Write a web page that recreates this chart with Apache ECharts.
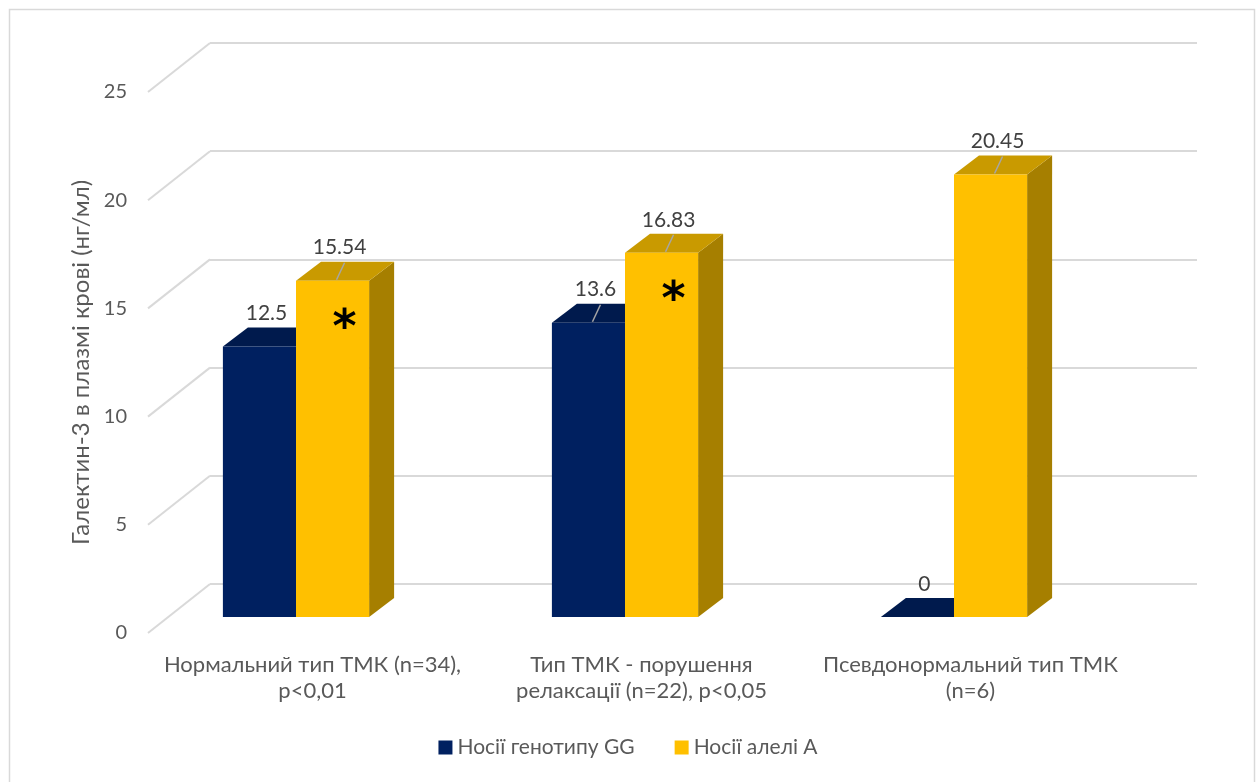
<!DOCTYPE html>
<html>
<head>
<meta charset="utf-8">
<script src="https://cdn.jsdelivr.net/npm/echarts@6/dist/echarts.min.js"></script>
<style>
  html, body { margin: 0; padding: 0; background: #ffffff; }
  #chart { width: 1256px; height: 782px; }
</style>
</head>
<body>
<div id="chart"></div>
<script>
// Галектин-3 у плазмі крові за типами трансмітрального кровотоку
const categories = [
  'Нормальний тип ТМК (n=34),\np<0,01',
  'Тип ТМК - порушення\nрелаксації (n=22), p<0,05',
  'Псевдонормальний тип ТМК\n(n=6)'
];
const seriesNames = ['Носії генотипу GG', 'Носії алелі А'];
const carriersGG = [12.5, 13.6, 0];
const carriersA = [15.54, 16.83, 20.45];
const significance = ['*', '*', ''];
const yTicks = [0, 5, 10, 15, 20, 25];

const FONT = 'Lato, "Open Sans", sans-serif';
const TEXT = '#595959';
const GRID_LINE = '#D9D9D9';

// Oblique depth of the floor / back wall
const WALL_DX = 62, WALL_DY = -49;
// Depth of a bar box
const BAR_DX = 25, BAR_DY = -19;
// Front plane of the bars relative to the front edge of the floor
const BAR_SHIFT_X = -16.5, BAR_SHIFT_Y = -16;

const palette = [
  { front: '#002060', top: '#001A4D', side: '#00163F' },
  { front: '#FFC000', top: '#C99A00', side: '#A67F00' }
];

function barRenderer(k) {
  const colors = palette[k];
  return function (params, api) {
    const cat = api.value(0);
    const v = api.value(1);
    const base = api.coord([cat, 0]);
    const top = api.coord([cat, v]);
    const band = api.size([1, 0])[0];
    const w = band * 0.2222;
    const x0 = base[0] + BAR_SHIFT_X - w + k * w;
    const x1 = x0 + w;
    const yb = base[1] + BAR_SHIFT_Y;
    const yt = top[1] + BAR_SHIFT_Y;
    const xc = (x0 + x1) / 2;
    const children = [
      { type: 'polygon', shape: { points: [[x1, yt], [x1 + BAR_DX, yt + BAR_DY], [x1 + BAR_DX, yb + BAR_DY], [x1, yb]] },
        style: { fill: colors.side } },
      { type: 'polygon', shape: { points: [[x0, yt], [x1, yt], [x1 + BAR_DX, yt + BAR_DY], [x0 + BAR_DX, yt + BAR_DY]] },
        style: { fill: colors.top } }
    ];
    if (yb - yt > 0.5) {
      children.push({ type: 'rect', shape: { x: x0, y: yt, width: w, height: yb - yt }, style: { fill: colors.front } });
    }
    // leader lines on the taller boxes, where the label sits clear of the top face
    if (v > 13) {
      children.push({ type: 'line', shape: { x1: xc + 4, y1: yt - 1, x2: xc + 12, y2: yt - 18 },
        style: { stroke: '#A6A6A6', lineWidth: 1.5 } });
    }
    children.push({ type: 'text', x: xc + 7, y: yt - 33,
      style: { text: String(v), fill: '#404040', font: '21px ' + FONT, align: 'center', verticalAlign: 'middle' } });
    const mark = k === 1 ? significance[params.dataIndex] : '';
    if (mark) {
      children.push({ type: 'text', x: xc + 12, y: yt + 49,
        style: { text: mark, fill: '#000000', font: 'bold 46px "DejaVu Sans", sans-serif', align: 'center', verticalAlign: 'middle' } });
    }
    return { type: 'group', children: children };
  };
}

function diagonalRenderer(params, api) {
  const y = api.coord([0, api.value(1)])[1];
  const x = params.coordSys.x;
  return { type: 'line', shape: { x1: x, y1: y, x2: x + WALL_DX, y2: y + WALL_DY },
    style: { stroke: GRID_LINE, lineWidth: 2 } };
}

const chart = echarts.init(document.getElementById('chart'), null, { renderer: 'canvas' });

chart.setOption({
  backgroundColor: '#ffffff',
  animation: false,
  textStyle: { fontFamily: FONT },
  graphic: [{
    type: 'rect', left: 7, top: 7, shape: { width: 1245, height: 790 },
    style: { fill: 'none', stroke: '#D9D9D9', lineWidth: 1.5 }, silent: true, z: -10
  }],
  legend: {
    data: seriesNames,
    bottom: 19,
    left: 'center',
    icon: 'rect',
    itemWidth: 14,
    itemHeight: 14,
    itemGap: 40,
    textStyle: { color: TEXT, fontSize: 21, fontFamily: FONT }
  },
  grid: [
    // front edge of the floor: value axis labels and category labels
    { left: 148, top: 92, width: 987, height: 541 },
    // back wall
    { left: 210, top: 43, width: 987, height: 541 }
  ],
  xAxis: [
    { type: 'category', gridIndex: 0, data: categories,
      axisLine: { show: false }, axisTick: { show: false },
      axisLabel: { color: TEXT, fontSize: 22, lineHeight: 26, margin: 19, interval: 0, fontFamily: FONT } },
    { type: 'category', gridIndex: 1, data: categories, show: false }
  ],
  yAxis: [
    { type: 'value', gridIndex: 0, min: 0, max: 25, interval: 5,
      axisLine: { show: false }, axisTick: { show: false }, splitLine: { show: false },
      axisLabel: { color: TEXT, fontSize: 20, margin: 21, fontFamily: FONT },
      name: 'Галектин-3 в плазмі крові (нг/мл)', nameLocation: 'middle', nameGap: 55,
      nameTextStyle: { color: TEXT, fontSize: 24, fontFamily: FONT } },
    { type: 'value', gridIndex: 1, min: 0, max: 25, interval: 5,
      axisLine: { show: false }, axisTick: { show: false }, axisLabel: { show: false },
      splitLine: { show: true, lineStyle: { color: GRID_LINE, width: 2 } } }
  ],
  series: [
    { type: 'custom', name: 'walls', xAxisIndex: 0, yAxisIndex: 0, silent: true,
      data: yTicks.map(function (t) { return [0, t]; }), renderItem: diagonalRenderer, z: 1 },
    { type: 'custom', name: seriesNames[0], xAxisIndex: 0, yAxisIndex: 0,
      itemStyle: { color: palette[0].front },
      data: carriersGG.map(function (v, i) { return [i, v]; }), renderItem: barRenderer(0), z: 2 },
    { type: 'custom', name: seriesNames[1], xAxisIndex: 0, yAxisIndex: 0,
      itemStyle: { color: palette[1].front },
      data: carriersA.map(function (v, i) { return [i, v]; }), renderItem: barRenderer(1), z: 3 }
  ]
});
</script>
</body>
</html>
